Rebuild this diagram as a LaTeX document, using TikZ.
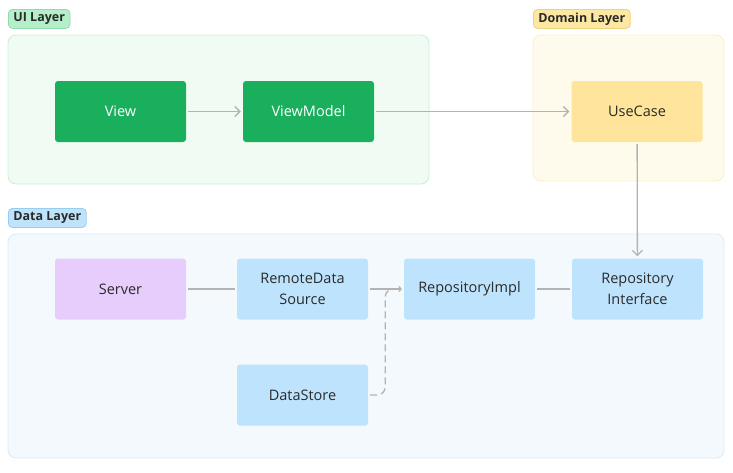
\documentclass[tikz,border=0pt]{standalone}
\usepackage{fontspec}
\setmainfont{Open Sans}
\usetikzlibrary{arrows.meta}
\definecolor{gbox}{HTML}{1AAF5D}
\definecolor{uifill}{HTML}{F0FBF3}
\definecolor{uiline}{HTML}{C8F0D5}
\definecolor{uitag}{HTML}{B5EFC9}
\definecolor{uitagline}{HTML}{92DBAD}
\definecolor{dofill}{HTML}{FFFBEC}
\definecolor{doline}{HTML}{FDEFC3}
\definecolor{dotag}{HTML}{FDE8A3}
\definecolor{dotagline}{HTML}{EFD27E}
\definecolor{ybox}{HTML}{FEE59B}
\definecolor{dafill}{HTML}{F4F9FE}
\definecolor{daline}{HTML}{D5EBFB}
\definecolor{datag}{HTML}{BFE3FB}
\definecolor{datagline}{HTML}{98CDEE}
\definecolor{bbox}{HTML}{BEE3FD}
\definecolor{pbox}{HTML}{E7CDFB}
\definecolor{txt}{HTML}{2A2A2A}
\definecolor{conn}{HTML}{B3B3B3}
\tikzset{
  box/.style={rectangle, rounded corners=3pt, minimum width=131pt, minimum height=61pt,
    align=center, font=\fontsize{14.5}{21}\selectfont, text=txt, inner sep=2pt},
  greenbox/.style={box, fill=gbox, text=white},
  bluebox/.style={box, fill=bbox},
  layer/.style={rounded corners=8pt, line width=0.8pt},
  tag/.style={rectangle, rounded corners=4pt, line width=0.8pt, anchor=north west,
    font=\fontsize{12.5}{14}\bfseries\selectfont, text=txt, inner xsep=5pt, minimum height=19pt, inner ysep=0pt},
  conline/.style={draw=conn, line width=1.3pt},
  arr/.style={conline, -{Straight Barb[length=5pt,width=10pt,line width=1.3pt]}},
}
\begin{document}
\begin{tikzpicture}[x=1pt,y=-1pt]
\useasboundingbox (0,0) rectangle (733,472);
% containers
\draw[layer, fill=uifill, draw=uiline] (8,35) rectangle (429,184);
\draw[layer, fill=dofill, draw=doline] (533,35) rectangle (724,181);
\draw[layer, fill=dafill, draw=daline] (8,234) rectangle (724,458);
% tags
\node[tag, fill=uitag, draw=uitagline] (tui) at (8,9) {UI Layer};
\node[tag, fill=dotag, draw=dotagline] (tdo) at (533,9) {Domain Layer};
\node[tag, fill=datag, draw=datagline] (tda) at (8,208) {Data Layer};
% nodes
\node[greenbox] (view) at (120.5,111.5) {View};
\node[greenbox] (vm) at (308.5,111.5) {ViewModel};
\node[box, fill=ybox] (uc) at (637,111.5) {UseCase};
\node[box, fill=pbox] (server) at (120.5,289) {Server};
\node[bluebox] (remote) at (302.5,289) {RemoteData\\Source};
\node[bluebox] (store) at (302.5,395) {DataStore};
\node[bluebox] (impl) at (469.5,289) {RepositoryImpl};
\node[bluebox] (iface) at (637.5,289) {Repository\\Interface};
% connectors
\draw[arr, shorten <=2pt, shorten >=2pt] (view) -- (vm);
\draw[arr, shorten <=2pt, shorten >=2pt] (vm) -- (uc);
\draw[arr, shorten <=2pt, shorten >=2pt] (uc) -- (iface);
\draw[conline, shorten <=2pt, shorten >=2pt] (server) -- (remote);
\draw[conline, shorten <=2pt, shorten >=2pt] (impl) -- (iface);
\draw[conline, -{Straight Barb[length=2pt,width=5pt,line width=1.3pt]}, shorten <=2pt, shorten >=2pt] (remote) -- (impl);
\draw[conline, dashed, dash pattern=on 7pt off 4pt, rounded corners=8pt, shorten <=2pt, shorten >=3pt]
  (store.east) -- ++(17,0) |- (impl.west);
\end{tikzpicture}
\end{document}
